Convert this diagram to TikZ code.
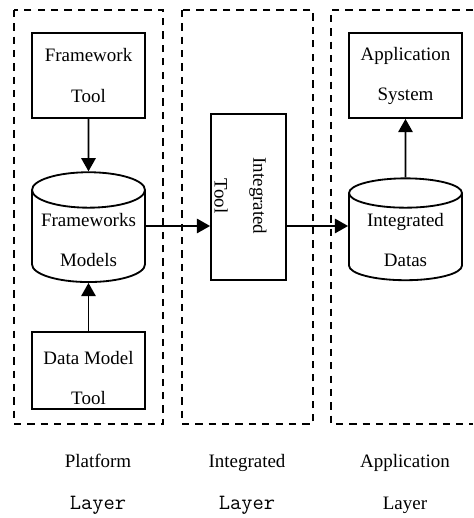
\documentclass[tikz,border=0pt]{standalone}
\usepackage{fontspec}
\setmainfont{Liberation Serif}
\usetikzlibrary{shapes.geometric,arrows.meta}
\tikzstyle{bx}=[rectangle,draw=black,line width=1.3pt,align=center,font=\fontsize{13.5}{28.5}\selectfont,minimum width=2.825cm]
\tikzstyle{db}=[cylinder,shape border rotate=90,aspect=0.34,draw=black,line width=1.3pt,align=center,font=\fontsize{13.5}{28.5}\selectfont,minimum width=2.825cm,minimum height=2.45cm]
\tikzstyle{layer}=[draw=black,line width=1.3pt,dash pattern=on 5.2pt off 4.3pt]
\tikzstyle{arr}=[line width=1.3pt,-{Triangle[length=0.33cm,width=0.36cm]}]
\tikzstyle{lbl}=[align=center,font=\fontsize{13.5}{29.9}\selectfont]

\begin{document}
\begin{tikzpicture}
\useasboundingbox (0,0) rectangle (11.825,12.95);
\draw[layer] (0.35,12.7) rectangle (4.075,2.35);
\draw[layer] (4.55,12.7) rectangle (7.825,2.35);
\draw[layer] (11.825,12.7) -- (8.275,12.7) -- (8.275,2.35) -- (11.825,2.35);
\node[bx,minimum height=2.125cm] (ft) at (2.2125,11.0625) {Framework\\Tool};
\node[db] (fm) at (2.2125,6.95) {Frameworks\\Models};
\node[bx,minimum height=1.825cm] (dt) at (2.2125,3.6875) {\rule{0pt}{19.5pt}Data Model\\Tool};
\node[bx,minimum width=1.875cm,minimum height=4.15cm] (it) at (6.2125,8.025) {};
\node[lbl,rotate=-90,font=\fontsize{13.5}{27.7}\selectfont] (itl) at (6.0125,8.05) {Integrated\\Tool};
\node[bx,minimum height=2.125cm] (as) at (10.1375,11.0625) {Application\\System};
\node[db] (id) at (10.1375,6.95) {Integrated\\Datas};
\draw[arr] (ft.south) -- (fm.north);
\draw[arr] (dt.north) -- (fm.south);
\draw[arr] ([yshift=0.35cm]fm.east) -- ([yshift=0.35cm]fm.east -| it.west);
\draw[arr] ([yshift=0.35cm]id.west -| it.east) -- ([yshift=0.35cm]id.west);
\draw[arr] (id.north) -- (as.south);
\node[lbl] (pl) at (2.45,0.85) {Platform\\{\ttfamily\fontsize{15.5}{15.5}\selectfont Layer}};
\node[lbl] (il) at (6.175,0.85) {Integrated\\{\ttfamily\fontsize{15.5}{15.5}\selectfont Layer}};
\node[lbl] (al) at (10.125,0.85) {Application\\Layer};
\end{tikzpicture}
\end{document}
